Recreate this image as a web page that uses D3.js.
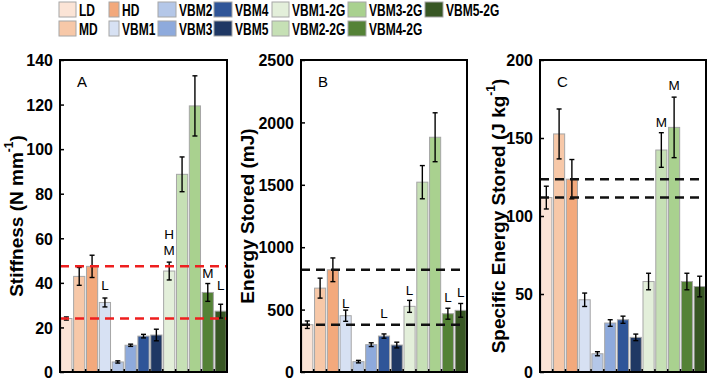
<!DOCTYPE html>
<html lang="en">
<head>
<meta charset="UTF-8">
<title>Stiffness and energy stored</title>
<script src="https://cdn.jsdelivr.net/npm/d3@7"></script>
<style>
    body{
        margin: 0;
        background: white;
        font-family: "Liberation Sans", Arial, sans-serif;
    }
    .tick text{
        font-family: "Liberation Sans", Arial, sans-serif;
        font-size: 16px;
        font-weight: bold;
        fill: black;
    }
    .legend text{
        font-family: "Liberation Sans", Arial, sans-serif;
        font-size: 16px;
        font-weight: bold;
    }
</style>
</head>
<body>
<svg id="main" width="708" height="380"></svg>
<script>
    const categories = ['LD','MD','HD','VBM1','VBM2','VBM3','VBM4','VBM5',
        'VBM1-2G','VBM2-2G','VBM3-2G','VBM4-2G','VBM5-2G']
    const colors = ['#fbe4d6','#f7c8a8','#f3a97c','#d7e1f3','#b4c7e8','#8eaadc','#2f5598','#1f3864',
        '#e3efda','#c6e0b5','#a9d18f','#548236','#385724']

    // panel A - stiffness (N mm-1)
    const stiffness = [24,42.9,47.4,31.2,4.5,12,16.1,16.6,45.3,88.7,119.4,35.7,27.3]
    const stiffnessErr = [0.7,4,5,2,0.5,0.5,0.8,2.6,4,7.8,13.5,4,3.1]
    // panel B - energy stored (mJ)
    const energy = [379,672,819,451,83,219,288,216,526,1521,1881,467,494]
    const energyErr = [30,80,95,45,10,15,17,23,48,133,196,44,55]
    // panel C - specific energy stored (J kg-1)
    const specific = [111.8,152.6,123.6,46.3,11.7,31.4,33.5,22.2,58,142.3,156.8,58,54.8]
    const specificErr = [7.3,16,12.6,4.3,1.3,2.1,2.3,2.1,5.3,11.1,19.4,5.3,6.6]

    const stiffnessTicks = [0,20,40,60,80,100,120,140]
    const energyTicks = [0,500,1000,1500,2000,2500]
    const specificTicks = [0,50,100,150,200]

    // dashed reference levels
    const stiffnessRefs = [47.4,24]
    const energyRefs = [819,379]
    const specificRefs = [123.6,111.8]

    // letters above bars: [category, text, value]
    const stiffnessNotes = [['VBM1','L',36.8],['VBM1-2G','H',59.6],['VBM1-2G','M',52.5],['VBM4-2G','M',42.2],['VBM5-2G','L',36.8]]
    const energyNotes = [['VBM1','L',513],['VBM4','L',433],['VBM1-2G','L',617],['VBM4-2G','L',561],['VBM5-2G','L',601]]
    const specificNotes = [['VBM2-2G','M',157],['VBM3-2G','M',181]]

    const plotTop = 60, plotBottom = 372

    const panels = [
        {x0:60, x1:227, letter:'A', values:stiffness, err:stiffnessErr, ticks:stiffnessTicks, max:140,
            refs:stiffnessRefs, refColor:'#ee1f1f', notes:stiffnessNotes, titleX:16,
            title:['Stiffness (N mm','-1',')']},
        {x0:301, x1:467, letter:'B', values:energy, err:energyErr, ticks:energyTicks, max:2500,
            refs:energyRefs, refColor:'#111', notes:energyNotes, titleX:247,
            title:['Energy Stored (mJ)','','']},
        {x0:540, x1:706, letter:'C', values:specific, err:specificErr, ticks:specificTicks, max:200,
            refs:specificRefs, refColor:'#111', notes:specificNotes, titleX:498,
            title:['Specific Energy Stored (J kg','-1',')']}
    ]

    const svg = d3.select('svg#main')

    panels.forEach(p => {
        const g = svg.append('g')
        const x = d3.scaleBand().domain(categories).range([p.x0, p.x1])
            .paddingInner(0.13).paddingOuter(0.06)
        const y = d3.scaleLinear().domain([0, p.max]).range([plotBottom, plotTop])

        // bars
        g.selectAll('.bar').data(p.values).enter().append('rect')
            .attr('x', (d,i)=>x(categories[i]))
            .attr('y', d=>y(d))
            .attr('width', x.bandwidth())
            .attr('height', d=>plotBottom - y(d))
            .attr('fill', (d,i)=>colors[i])
            .attr('stroke', '#a6a6a6')
            .attr('stroke-width', 1)

        // error bars
        const eb = g.selectAll('.err').data(p.values).enter().append('g')
            .attr('transform', (d,i)=>`translate(${x(categories[i]) + x.bandwidth()/2},0)`)
        eb.append('line')
            .attr('y1', (d,i)=>y(d - p.err[i])).attr('y2', (d,i)=>y(d + p.err[i]))
            .attr('stroke', 'black').attr('stroke-width', 1.4)
        eb.append('line')
            .attr('x1', -2.5).attr('x2', 2.5)
            .attr('y1', (d,i)=>y(d + p.err[i])).attr('y2', (d,i)=>y(d + p.err[i]))
            .attr('stroke', 'black').attr('stroke-width', 1.4)
        eb.append('line')
            .attr('x1', -2.5).attr('x2', 2.5)
            .attr('y1', (d,i)=>y(d - p.err[i])).attr('y2', (d,i)=>y(d - p.err[i]))
            .attr('stroke', 'black').attr('stroke-width', 1.4)

        // reference lines
        g.selectAll('.ref').data(p.refs).enter().append('line')
            .attr('x1', p.x0).attr('x2', p.x1)
            .attr('y1', d=>y(d)).attr('y2', d=>y(d))
            .attr('stroke', p.refColor)
            .attr('stroke-width', 2.5)
            .attr('stroke-dasharray', '9,6')

        // annotations
        g.selectAll('.note').data(p.notes).enter().append('text')
            .attr('x', d=>x(d[0]) + x.bandwidth()/2)
            .attr('y', d=>y(d[2]))
            .attr('text-anchor', 'middle')
            .attr('font-size', 13.5)
            .attr('fill', '#000')
            .text(d=>d[1])

        g.append('text')
            .attr('x', p.x0 + 17).attr('y', plotTop + 27)
            .attr('font-size', 15)
            .attr('fill', '#000')
            .text(p.letter)

        // y axis
        const yAxis = g.append('g')
            .attr('transform', `translate(${p.x0},0)`)
            .call(d3.axisLeft(y).tickValues(p.ticks).tickSize(-4).tickPadding(7).tickFormat(d3.format('d')))
        yAxis.select('.domain').remove()
        yAxis.selectAll('.tick line').attr('stroke-width', 1.5)
        yAxis.selectAll('.tick text').attr('dy', '0.36em')

        // category boundary ticks along the bottom
        g.selectAll('.xtick').data(categories.slice(1)).enter().append('line')
            .attr('x1', d=>x(d) - x.step()*x.paddingInner()/2)
            .attr('x2', d=>x(d) - x.step()*x.paddingInner()/2)
            .attr('y1', plotBottom).attr('y2', plotBottom - 3)
            .attr('stroke', 'black').attr('stroke-width', 1.5)

        // frame
        g.append('rect')
            .attr('x', p.x0).attr('y', plotTop)
            .attr('width', p.x1 - p.x0).attr('height', plotBottom - plotTop)
            .attr('fill', 'none').attr('stroke', 'black').attr('stroke-width', 2)

        // axis title
        const t = g.append('text')
            .attr('transform', `translate(${p.titleX},${(plotTop + plotBottom)/2}) rotate(-90)`)
            .attr('text-anchor', 'middle')
            .attr('dominant-baseline', 'central')
            .attr('font-size', 19)
            .attr('font-weight', 'bold')
        t.append('tspan').text(p.title[0])
        if (p.title[1]) {
            t.append('tspan').attr('font-size', 12).attr('dy', -7).text(p.title[1])
            t.append('tspan').attr('dy', 7).text(p.title[2])
        }
    })

    // legend, two rows filled column by column; labels are a condensed bold face
    const legendCols = [59,109,158,214,272,348,425]
    const legendSwatchW = [17,10,18,18,17,18,18]
    const legend = svg.append('g').attr('class', 'legend')
        .selectAll('.item').data(categories).enter().append('g')
        .attr('transform', (d,i)=>`translate(${legendCols[Math.floor(i/2)]},${i%2 ? 21 : 2})`)
    legend.append('rect')
        .attr('width', (d,i)=>legendSwatchW[Math.floor(i/2)]).attr('height', 15)
        .attr('fill', (d,i)=>colors[i])
        .attr('stroke', '#a6a6a6').attr('stroke-width', 1)
    legend.append('text')
        .attr('transform', (d,i)=>`translate(${legendSwatchW[Math.floor(i/2)] + 3},14) scale(0.75,1)`)
        .attr('fill', '#000')
        .text(d=>d)
</script>
</body>
</html>
